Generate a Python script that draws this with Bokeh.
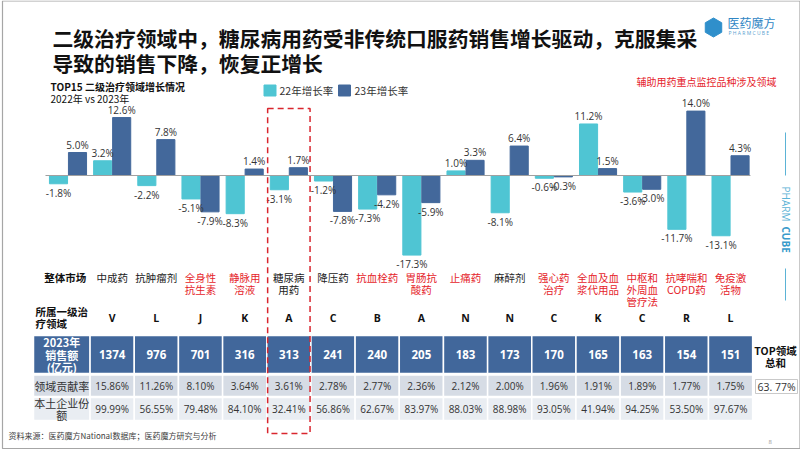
import numpy as np
from bokeh.plotting import figure
from bokeh.models import Range1d, ColumnDataSource
from bokeh.core.properties import value
from bokeh.embed import file_html
from bokeh.resources import INLINE

# ---------------- data ----------------
categories = ["整体市场", "中成药", "抗肿瘤剂", "全身性\n抗生素", "静脉用\n溶液", "糖尿病\n用药",
              "降压药", "抗血栓药", "胃肠抗\n酸药", "止痛药", "麻醉剂", "强心药\n治疗",
              "全血及血\n浆代用品", "中枢和\n外周血\n管疗法", "抗哮喘和\nCOPD药", "免疫激\n活物"]
red_flags = [0, 0, 0, 1, 1, 0, 0, 1, 1, 1, 0, 1, 1, 1, 1, 1]
growth_22 = [-1.8, 3.2, -2.2, -5.1, -8.3, -3.1, -1.2, -7.3, -17.3, 1.0, -8.1, -0.6, 11.2, -3.6, -11.7, -13.1]
growth_23 = [5.0, 12.6, 7.8, -7.9, 1.4, 1.7, -7.8, -4.2, -5.9, 3.3, 6.4, -0.3, 1.5, -3.0, 14.0, 4.3]
atc_codes = ["V", "L", "J", "K", "A", "C", "B", "A", "N", "N", "C", "K", "C", "R", "L"]
sales_2023 = [1374, 976, 701, 316, 313, 241, 240, 205, 183, 173, 170, 165, 163, 154, 151]
contribution = [15.86, 11.26, 8.10, 3.64, 3.61, 2.78, 2.77, 2.36, 2.12, 2.00, 1.96, 1.91, 1.89, 1.77, 1.75]
local_share = [99.99, 56.55, 79.48, 84.10, 32.41, 56.86, 62.67, 83.97, 88.03, 88.98, 93.05, 41.94, 94.25, 53.50, 97.67]
top_total = "63. 77%"
highlight_idx = 5

# ---------------- style ----------------
CJK = value("Noto Sans CJK SC")
NUM = value("Open Sans")
C22 = "#4FC5D3"
C23 = "#43689B"
HEAD = "#41679B"
ROW2 = "#D6DCE5"
ROW3 = "#E9EDF2"
RED = "#E5242B"
TXT = "#333333"

W, H = 800, 449
p = figure(width=W, height=H, x_range=Range1d(0, W), y_range=Range1d(H, 0),
           x_axis_type=None, y_axis_type=None, output_backend="svg",
           toolbar_location=None, min_border=0, outline_line_color=None,
           background_fill_color="white", border_fill_color="white")

ZERO_PX, PX_PER_PCT = 175.0, 4.6
G0, GSTEP = 67.5, 44.17
p.extra_y_ranges = {"pct": Range1d(-(H - ZERO_PX) / PX_PER_PCT, ZERO_PX / PX_PER_PCT)}
p.extra_x_ranges = {"grp": Range1d(-G0 / GSTEP, (W - G0) / GSTEP)}

n = len(categories)
idx = np.arange(n)
OFF, BW = 0.215, 0.41


def multiline(xs, ys, texts, spacing, colors, **kw):
    fx, fy, ft, fc = [], [], [], []
    for x, y, t, c in zip(xs, ys, texts, colors):
        for k, line in enumerate(t.split("\n")):
            fx.append(x); fy.append(y + k * spacing); ft.append(line); fc.append(c)
    p.text(x=fx, y=fy, text=ft, text_color=fc, text_baseline="middle", **kw)


# slide border
p.quad(left=[2], right=[799.5], top=[0.5], bottom=[448], fill_alpha=0, line_color="#A6A6A6", line_width=1.2)

# ---------------- title ----------------
multiline([52], [37], ["二级治疗领域中，糖尿病用药受非传统口服药销售增长驱动，克服集采\n导致的销售下降，恢复正增长"],
          25, ["#111111"], text_font=CJK, text_font_size="20.8px", text_font_style="bold",
          text_align="left")

# logo
p.scatter(x=[713], y=[27], marker="hex", size=19, color="#2F8FCB", angle=np.pi / 2)
p.text(x=[727], y=[22], text=["医药魔方"], text_font=CJK, text_font_size="12px",
       text_color="#2F86C4", text_baseline="middle")
p.text(x=[728], y=[32.5], text=["P H A R M C U B E"], text_font=NUM, text_font_size="5px",
       text_color="#5A9FD0", text_baseline="middle")

# subtitle
p.text(x=[50], y=[86], text=["TOP15 二级治疗领域增长情况"], text_font=CJK, text_font_size="10px",
       text_font_style="bold", text_color="#111111", text_baseline="middle")
p.text(x=[50], y=[97.5], text=["2022年 vs 2023年"], text_font=CJK, text_font_size="10px",
       text_color="#111111", text_baseline="middle")

# legend
p.rect(x=[269.5, 344], y=[90, 90], width=12, height=11, color=[C22, C23])
p.text(x=[279, 354], y=[90, 90], text=["22年增长率", "23年增长率"], text_font=CJK,
       text_font_size="10.5px", text_color=TXT, text_baseline="middle")

p.text(x=[776], y=[81], text=["辅助用药重点监控品种涉及领域"], text_font=CJK, text_font_size="10px",
       text_color=RED, text_baseline="middle", text_align="right")

# ---------------- bars ----------------
src = ColumnDataSource(dict(x22=idx - OFF, x23=idx + OFF, g22=growth_22, g23=growth_23))
p.vbar(x="x22", top="g22", bottom=0, width=BW, source=src, color=C22,
       x_range_name="grp", y_range_name="pct")
p.vbar(x="x23", top="g23", bottom=0, width=BW, source=src, color=C23,
       x_range_name="grp", y_range_name="pct")
p.segment(x0=[-0.51], x1=[15.45], y0=[0], y1=[0], line_color="#A0A0A0", line_width=1.2,
          x_range_name="grp", y_range_name="pct")

for xs, vals in ((idx - OFF, growth_22), (idx + OFF, growth_23)):
    pos = [i for i, v in enumerate(vals) if v >= 0]
    neg = [i for i, v in enumerate(vals) if v < 0]
    p.text(x=[xs[i] for i in pos], y=[vals[i] for i in pos], text=[f"{vals[i]:.1f}%" for i in pos],
           text_font=NUM, text_font_size="10px", text_color=TXT, text_align="center",
           text_baseline="bottom", y_offset=-1, x_range_name="grp", y_range_name="pct")
    p.text(x=[xs[i] for i in neg], y=[vals[i] for i in neg], text=[f"{vals[i]:.1f}%" for i in neg],
           text_font=NUM, text_font_size="10px", text_color=TXT, text_align="center",
           text_baseline="top", y_offset=2, x_range_name="grp", y_range_name="pct")

# ---------------- category labels ----------------
cat_colors = [RED if f else "#222222" for f in red_flags]
multiline(list(idx[1:]), [277] * (n - 1), categories[1:], 11.8, cat_colors[1:], text_font=CJK,
          text_font_size="10.5px", text_align="center", x_range_name="grp")
p.text(x=[-0.06], y=[277], text=[categories[0]], text_font=CJK, text_font_size="10.5px",
       text_font_style="bold", text_color="#111111", text_align="center", text_baseline="middle",
       x_range_name="grp")

# ATC row
multiline([35], [311], ["所属一级治\n疗领域"], 11.5, ["#111111"], text_font=CJK, text_font_size="10.5px",
          text_font_style="bold", text_align="left")
p.text(x=idx[1:], y=[317] * (n - 1), text=atc_codes, text_font=NUM, text_font_size="10.5px",
       text_font_style="bold", text_color="#111111", text_align="center", text_baseline="middle",
       x_range_name="grp")

# ---------------- table ----------------
LBL_L = (33 - G0) / GSTEP
LBL_C = (LBL_L + 0.5) / 2
rows = [(335, 373, HEAD), (374.5, 396, ROW2), (397, 420, ROW3)]
cols = idx[1:]
for top, bot, col in rows:
    p.quad(left=[LBL_L] + list(cols - 0.5), right=[0.5] + list(cols + 0.5),
           top=[top] * n, bottom=[bot] * n, fill_color=col, line_color="white", line_width=1.5,
           x_range_name="grp")

multiline([LBL_C], [341.5], ["2023年\n销售额\n(亿元)"], 12.5, ["white"], text_font=CJK,
          text_font_size="11px", text_font_style="bold", text_align="center", x_range_name="grp")
p.text(x=cols, y=[354] * 15, text=[str(v) for v in sales_2023], text_font=NUM, text_font_size="11.5px",
       text_font_style="bold", text_color="white", text_align="center", text_baseline="middle",
       x_range_name="grp")

p.text(x=[LBL_C], y=[385.5], text=["领域贡献率"], text_font=CJK, text_font_size="11px",
       text_color=TXT, text_align="center", text_baseline="middle", x_range_name="grp")
p.text(x=cols, y=[385.5] * 15, text=[f"{v:.2f}%" for v in contribution], text_font=NUM,
       text_font_size="10px", text_color=TXT, text_align="center", text_baseline="middle",
       x_range_name="grp")

multiline([LBL_C], [402.5], ["本土企业份\n额"], 12, [TXT], text_font=CJK, text_font_size="11px",
          text_align="center", x_range_name="grp")
p.text(x=cols, y=[408.5] * 15, text=[f"{v:.2f}%" for v in local_share], text_font=NUM,
       text_font_size="10px", text_color=TXT, text_align="center", text_baseline="middle",
       x_range_name="grp")

# TOP total
multiline([775], [349.5], ["TOP领域\n总和"], 12.5, ["#111111"], text_font=CJK, text_font_size="10.5px",
          text_font_style="bold", text_align="center")
p.quad(left=[755], right=[797], top=[379], bottom=[393], fill_color="white", line_color="#BBBBBB",
       line_width=0.8)
p.text(x=[776], y=[386], text=[top_total], text_font=NUM, text_font_size="10.5px",
       text_color=TXT, text_align="center", text_baseline="middle")

# highlight box
p.quad(left=[highlight_idx - 0.48], right=[highlight_idx + 0.48], top=[108], bottom=[433],
       fill_alpha=0, line_color="#D9262E", line_width=1.5, line_dash="6 4", x_range_name="grp")

# right vertical brand
p.segment(x0=[785, 785], x1=[785, 785], y0=[132, 268], y1=[175, 300], line_color="#5BB3D6", line_width=1)
p.text(x=[785], y=[186], text=["PHARM"], text_font=NUM, text_font_size="10px", text_color="#5BB3D6",
       angle=-np.pi / 2, text_align="left", text_baseline="middle")
p.text(x=[785], y=[226], text=["CUBE"], text_font=NUM, text_font_size="10px", text_font_style="bold",
       text_color="#3A9BCB", angle=-np.pi / 2, text_align="left", text_baseline="middle")

# footer
p.text(x=[8], y=[435], text=["资料来源：医药魔方National数据库；医药魔方研究与分析"], text_font=CJK,
       text_font_size="8px", text_color="#404040", text_baseline="middle")
p.text(x=[768], y=[441], text=["8"], text_font=NUM, text_font_size="6px", text_color="#999999",
       text_baseline="middle")

open("out.html", "w").write(file_html(p, INLINE))
